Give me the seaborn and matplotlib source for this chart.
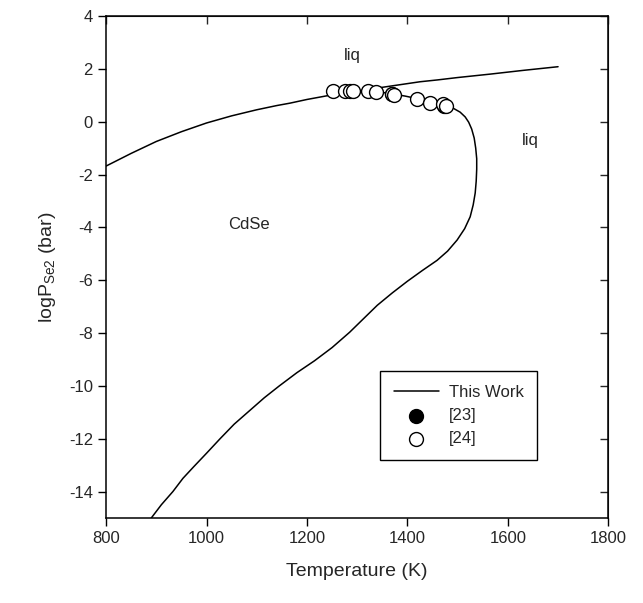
import numpy as np
import pandas as pd
import seaborn as sns
import matplotlib.pyplot as plt

# liq / CdSe boundary continuing to the upper liquid line
liq_T = [800, 850, 900, 950, 1000, 1050, 1100, 1140, 1166, 1200, 1240, 1270, 1300,
         1350, 1400, 1425, 1460, 1500, 1565, 1630, 1700]
liq_P = [-1.68, -1.20, -0.75, -0.38, -0.05, 0.22, 0.45, 0.61, 0.70, 0.84, 0.98, 1.07, 1.15,
         1.30, 1.44, 1.51, 1.58, 1.67, 1.80, 1.94, 2.08]

# loop branch (Se-rich side going down to low pressure)
loop_T = [1320, 1345, 1370, 1395, 1420, 1450, 1475, 1492, 1505, 1515, 1522, 1528, 1533,
          1536, 1538, 1538, 1537, 1535, 1531, 1525, 1514, 1499, 1480, 1459, 1430, 1400,
          1370, 1340, 1313, 1285, 1250, 1215, 1180, 1145, 1115, 1085, 1055, 1027, 1000,
          975, 953, 933, 910, 890]
loop_P = [1.17, 1.12, 1.05, 0.97, 0.87, 0.72, 0.60, 0.50, 0.36, 0.18, -0.02, -0.28, -0.62,
          -1.00, -1.40, -1.80, -2.25, -2.70, -3.15, -3.60, -4.05, -4.48, -4.90, -5.25, -5.63, -6.04,
          -6.48, -6.95, -7.45, -7.97, -8.55, -9.05, -9.50, -10.00, -10.45, -10.95, -11.45, -12.00, -12.55,
          -13.05, -13.50, -14.00, -14.50, -15.00]

# experimental points
ref23_T = [1370, 1472]
ref23_P = [1.03, 0.60]
ref24_T = [1252, 1276, 1286, 1292, 1321, 1338, 1369, 1374, 1419, 1445, 1471, 1476]
ref24_P = [1.17, 1.17, 1.17, 1.17, 1.16, 1.11, 1.05, 1.02, 0.85, 0.70, 0.66, 0.60]

sns.set_style('ticks')
plt.rcParams['font.family'] = ['Liberation Sans', 'DejaVu Sans']
plt.rcParams['mathtext.fontset'] = 'custom'
plt.rcParams['mathtext.rm'] = 'Liberation Sans'
plt.rcParams['mathtext.it'] = 'Liberation Sans:italic'
plt.rcParams['axes.unicode_minus'] = False

fig = plt.figure(figsize=(6.43, 6.03), dpi=100)
ax = fig.add_axes([0.165, 0.141, 0.781, 0.8325])

sns.lineplot(x=liq_T, y=liq_P, sort=False, estimator=None, color='black', lw=1.1, ax=ax,
             label='This Work')
sns.lineplot(x=loop_T, y=loop_P, sort=False, estimator=None, color='black', lw=1.1, ax=ax)
sns.scatterplot(x=ref23_T, y=ref23_P, color='black', edgecolor='black', s=100, lw=1,
                ax=ax, label='[23]', zorder=3)
sns.scatterplot(x=ref24_T, y=ref24_P, color='white', edgecolor='black', s=100, lw=1,
                ax=ax, label='[24]', zorder=4)

ax.set_xlim(800, 1800)
ax.set_ylim(-15, 4)
ax.set_xticks(range(800, 1801, 200))
ax.set_yticks(range(-14, 5, 2))
ax.tick_params(axis='both', labelsize=12, length=6, width=1, color='black')
for s in ax.spines.values():
    s.set_linewidth(1.1)
    s.set_color('black')

# inward ticks on top / right
ax2 = ax.secondary_xaxis('top')
ax2.set_xticks(range(800, 1801, 200))
ax2.tick_params(direction='in', length=6, width=1, labeltop=False)
ax3 = ax.secondary_yaxis('right')
ax3.set_yticks(range(-14, 5, 2))
ax3.tick_params(direction='in', length=6, width=1, labelright=False)

ax.set_xlabel('Temperature (K)', fontsize=14, labelpad=12)
ax.set_ylabel(r'logP$_{\mathrm{Se2}}$ (bar)', fontsize=14, labelpad=8)

ax.text(1290, 2.5, 'liq', fontsize=12, ha='center', va='center')
ax.text(1645, -0.7, 'liq', fontsize=12, ha='center', va='center')
ax.text(1085, -3.9, 'CdSe', fontsize=12, ha='center', va='center')

leg = ax.legend(loc='upper left', bbox_to_anchor=(1346, -9.45), bbox_transform=ax.transData,
                fontsize=12, frameon=True, fancybox=False, edgecolor='black', framealpha=1,
                handlelength=2.7, handletextpad=0.6, borderpad=0.8, labelspacing=0.5,
                borderaxespad=0)
leg.get_frame().set_linewidth(1)

fig.savefig('out.png', dpi=100)
